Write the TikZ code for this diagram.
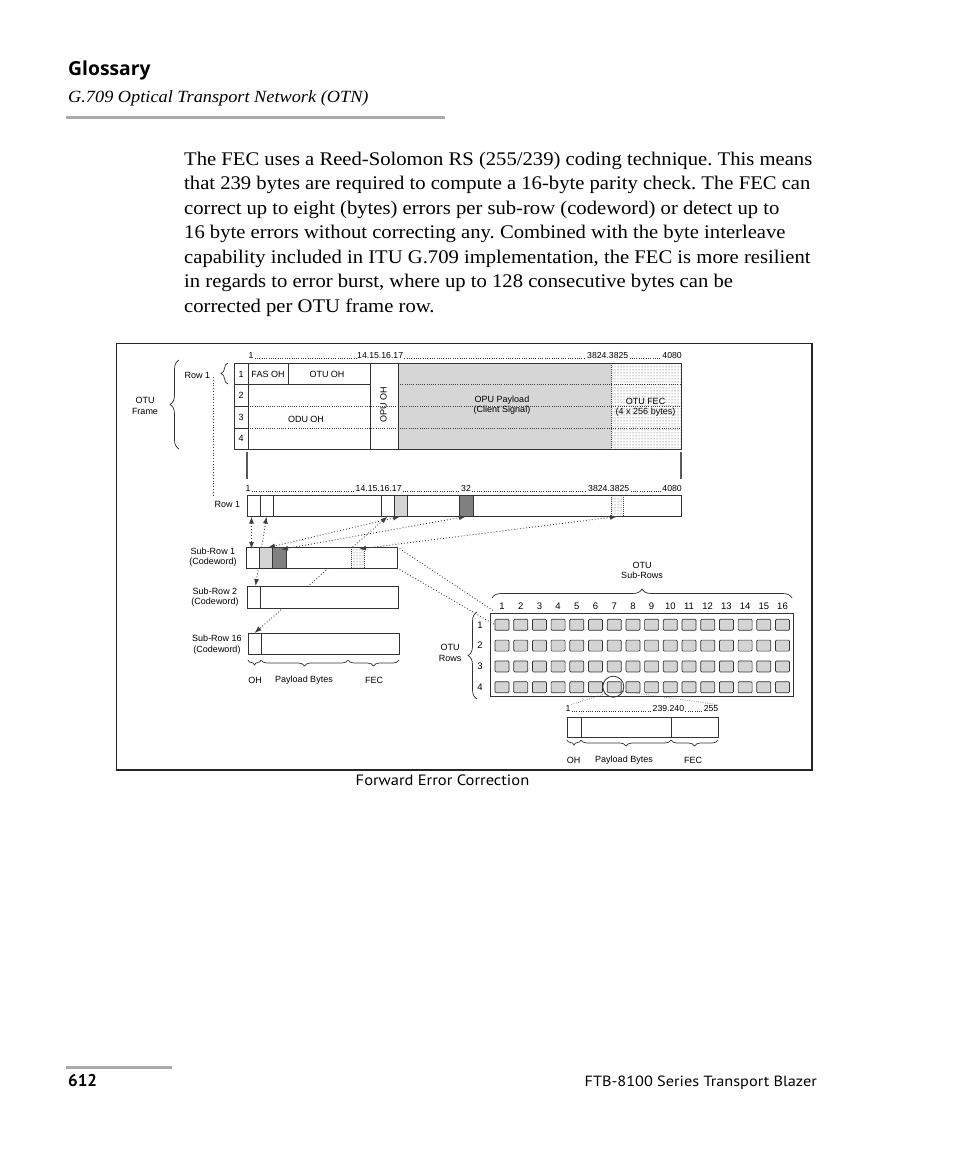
\documentclass[tikz,border=0pt]{standalone}
\usepackage{fontspec}
\setmainfont{Liberation Serif}[FakeStretch=1.07]
\setsansfont{Liberation Sans}
\newfontfamily\ptsans{PT Sans}
\newfontfamily\ptsanswide{PT Sans}[FakeStretch=1.1]
\newfontfamily\opensans{Open Sans}
\usetikzlibrary{patterns,decorations.pathreplacing,arrows.meta}
\tikzset{
  lab/.style={font=\sffamily\fontsize{9}{10.5}\selectfont, inner sep=0pt, align=center},
  num/.style={font=\sffamily\fontsize{8.7}{9}\selectfont, inner sep=0pt, anchor=base west},
  numr/.style={num, anchor=base east},
  leader/.style={line width=0.6pt, dash pattern=on 0.6pt off 1.7pt, black!80},
  bar/.style={draw=black!80, line width=0.9pt},
  thin/.style={draw=black!80, line width=0.8pt},
  cell/.style={draw=black!80, line width=0.7pt, fill=black!17, rounded corners=1pt},
  dotl/.style={line width=0.9pt, dash pattern=on 0.9pt off 2.1pt, black!75},
  darr/.style={dotl, {Latex[length=7pt,width=5pt]}-{Latex[length=7pt,width=5pt]}},
  brc/.style={decorate, decoration={brace, amplitude=#1}, draw=black!80, line width=0.7pt},
  body/.style={font=\fontsize{19.3}{24}\selectfont, inner sep=0pt, anchor=base west},
  fecfill/.style={pattern=dots, pattern color=black!70},
}
\frenchspacing
\begin{document}
\begin{tikzpicture}[x=1pt,y=-1pt]
\useasboundingbox[fill=white] (0,0) rectangle (954,1159);

% header
\node[inner sep=0pt, anchor=base west, font=\opensans\bfseries\fontsize{19.3}{20}\selectfont] (gloss) at (68,75) {Glossary};
\node[inner sep=0pt, anchor=base west, font=\itshape\fontsize{17.1}{20}\selectfont] (sub) at (68,102) {G.709 Optical Transport Network (OTN)};
\fill[black!33] (66,115.5) rectangle (445,119);

% body text
\node[body] (b1) at (184,165) {The FEC uses a Reed-Solomon RS (255/239) coding technique. This means};
\node[body] (b2) at (184,189.5) {that 239 bytes are required to compute a 16-byte parity check. The FEC can};
\node[body] (b3) at (184,214) {correct up to eight (bytes) errors per sub-row (codeword) or detect up to};
\node[body] (b4) at (184,238.5) {16 byte errors without correcting any. Combined with the byte interleave};
\node[body] (b5) at (184,263) {capability included in ITU G.709 implementation, the FEC is more resilient};
\node[body] (b6) at (184,287.5) {in regards to error burst, where up to 128 consecutive bytes can be};
\node[body] (b7) at (184,312) {corrected per OTU frame row.};

% diagram frame
\draw[line width=1.6pt, black!85] (116.5,343.5) rectangle (812,770);

% ---- OTU frame ----
\fill[black!16] (398,363) rectangle (611,449);
\fill[fecfill] (611,363) rectangle (681,449);
\draw[dotl, line width=0.6pt, dash pattern=on 0.6pt off 1.6pt] (398,384.5) -- (681,384.5);
\draw[dotl, line width=0.6pt, dash pattern=on 0.6pt off 1.6pt] (248,406) -- (681,406);
\draw[dotl, line width=0.6pt, dash pattern=on 0.6pt off 1.6pt] (248,428) -- (681,428);
\draw[dotl, line width=0.7pt, dash pattern=on 0.7pt off 1.3pt] (611,363) -- (611,449);
\draw[bar] (234,363) rectangle (681,449);
\draw[thin] (234,384.5) -- (248,384.5) (234,406) -- (248,406) (234,428) -- (248,428);
\draw[thin] (248,363) -- (248,449);
\draw[bar, line width=1.3pt] (248,384.5) -- (370,384.5);
\draw[thin] (288,363) -- (288,384.5);
\draw[thin] (370,363) -- (370,449) (398,363) -- (398,449);
\foreach \r/\y in {1/374,2/395,3/417,4/438} \node[lab] (rn\r) at (241,\y) {\r};
\node[lab] (fas) at (268,374) {FAS OH};
\node[lab] (otuoh) at (327,374) {OTU OH};
\node[lab] (odu) at (306,419.5) {ODU OH};
\node[lab, rotate=90] (opuoh) at (383.5,405) {OPU OH};
\node[lab] (opup) at (502,405) {OPU Payload\\(Client Signal)};
\node[lab] (otufec) at (645.5,407.5) {OTU FEC\\(4 x 256 bytes)};

% top numbering
\node[num] (t1) at (248.5,358) {1};
\node[num] (t14) at (357,358) {14.15.16.17};
\node[num] (t3824) at (587,358) {3824.3825};
\node[numr] (t4080) at (682,358) {4080};
\draw[leader] ([xshift=1pt]t1.base east) -- ([xshift=-1pt]t14.base west);
\draw[leader] ([xshift=1pt]t14.base east) -- ([xshift=-1pt]t3824.base west);
\draw[leader] ([xshift=1pt]t3824.base east) -- ([xshift=-1pt]t4080.base west);

% labels & braces left
\node[lab] (row1a) at (197.5,375) {Row 1};
\draw[brc=7pt] (228,384) -- (228,363);
\node[lab] (otuframe) at (145,406) {OTU\\Frame};
\draw[brc=9pt] (179,449) -- (179,360);
\draw[dotl, line width=0.7pt, dash pattern=on 0.8pt off 2pt] (213,377) -- (213,495);
\draw[black!65, line width=1.4pt] (247,452) -- (247,479);
\draw[black!65, line width=1.4pt] (681,452) -- (681,479);

% ---- Row 1 expanded ----
\node[num] (r1) at (245.5,491) {1};
\node[num] (r14) at (355.5,491) {14.15.16.17};
\node[num] (r32) at (461,491) {32};
\node[num] (r3824) at (588,491) {3824.3825};
\node[numr] (r4080) at (682,491) {4080};
\draw[leader] ([xshift=1pt]r1.base east) -- ([xshift=-1pt]r14.base west);
\draw[leader] ([xshift=1pt]r14.base east) -- ([xshift=-1pt]r32.base west);
\draw[leader] ([xshift=1pt]r32.base east) -- ([xshift=-1pt]r3824.base west);
\draw[leader] ([xshift=1pt]r3824.base east) -- ([xshift=-1pt]r4080.base west);
\node[lab] (row1b) at (227.5,504) {Row 1};

\fill[white] (247,495) rectangle (681,516);
\fill[black!17] (394,495) rectangle (407,516);
\fill[black!50] (459.5,495) rectangle (473,516);
\fill[fecfill] (611,495) rectangle (623.5,516);
\draw[thin] (260,495) -- (260,516) (273,495) -- (273,516) (381,495) -- (381,516) (394,495) -- (394,516) (407,495) -- (407,516);
\draw[thin] (459.5,495) -- (459.5,516) (473,495) -- (473,516);
\draw[dotl, line width=0.7pt, dash pattern=on 0.7pt off 1.3pt] (611,495) -- (611,516) (623.5,495) -- (623.5,516);
\draw[bar] (247,495) rectangle (681,516);

% coordinates on row 1
\coordinate (b1a) at (251.5,516.5);
\coordinate (b2a) at (266.5,516.5);
\coordinate (b16) at (387.5,516.5);
\coordinate (b17) at (400,516.5);
\coordinate (b32) at (466,516.5);
\coordinate (bfec) at (617,516.5);

% lines passing behind sub-row 1
\draw[darr] (b2a) -- (255.5,586);
\draw[darr] (b16) -- (254.5,633);

% ---- Sub-rows ----
\fill[white] (246,547) rectangle (397,568);
\fill[black!17] (259,547) rectangle (272,568);
\fill[black!50] (272,547) rectangle (286,568);
\fill[fecfill] (351,547) rectangle (364,568);
\draw[thin] (259,547) -- (259,568) (272,547) -- (272,568) (286,547) -- (286,568);
\draw[dotl, line width=0.7pt, dash pattern=on 0.7pt off 1.3pt] (351,547) -- (351,568) (364,547) -- (364,568);
\draw[bar] (246,547) rectangle (397,568);
\coordinate (sr1ne) at (397,547);
\coordinate (sr1se) at (397,568);
\node[lab] (srl1) at (213,557) {Sub-Row 1\\(Codeword)};

\draw[fill=white, bar] (247,586) rectangle (398,608);
\draw[thin] (260,586) -- (260,608);
\node[lab] (srl2) at (215,597) {Sub-Row 2\\(Codeword)};

\draw[fill=white, bar] (248,633) rectangle (399,654);
\draw[thin] (261,633) -- (261,654);
\node[lab] (srl16) at (217,644.5) {Sub-Row 16\\(Codeword)};

\draw[brc=5pt] (261,660) -- (248,660);
\draw[brc=6pt] (348,660) -- (261,660);
\draw[brc=6pt] (399,660) -- (348,660);
\node[lab] (ohA) at (255,680) {OH};
\node[lab] (plA) at (304,680) {Payload Bytes};
\node[lab] (fecA) at (374,680) {FEC};

% arrows row 1 <-> sub-row 1
\draw[darr] (b1a) -- (251.5,549);
\draw[darr] (b17) -- (268,547.5);
\draw[darr] (b32) -- (281,549.5);
\draw[darr] (bfec) -- (359,549);

% ---- OTU grid ----
\draw[bar, line width=1pt] (490,613.5) rectangle (793,696);
\foreach \i in {0,...,15} {
  \pgfmathsetmacro{\xx}{495+18.7*\i}
  \node[lab, font=\sffamily\fontsize{9.5}{10}\selectfont] (c\i) at (\xx+7,606.5) {\the\numexpr\i+1\relax};
  \foreach \j in {0,...,3} {
    \pgfmathsetmacro{\yy}{619.3+20.8*\j}
    \draw[cell] (\xx,\yy) rectangle ++(14,11);
  }
}
\foreach \j in {0,...,3} \node[lab, font=\sffamily\fontsize{9.5}{10}\selectfont] (rl\j) at (480,624.8+20.8*\j) {\the\numexpr\j+1\relax};
\node[lab] (subrows) at (642,570.5) {OTU\\Sub-Rows};
\draw[brc=9pt] (492,598) -- (792,598);
\node[lab] (otur) at (450,653) {OTU\\Rows};
\draw[brc=9pt] (477,699) -- (477,612);
\node[circle, draw=black!80, line width=0.8pt, minimum size=21pt, inner sep=0pt] (circ) at (613.3,686.7) {};

\draw[dotl] (sr1ne) -- (493,610.5);
\draw[dotl] (sr1se) -- (494.5,624.5);

% ---- codeword ----
\node[num] (w1) at (565.5,711) {1};
\node[num] (w239) at (652.5,711) {239.240};
\node[numr] (w255) at (718.5,711) {255};
\draw[leader] ([xshift=1pt]w1.base east) -- ([xshift=-1pt]w239.base west);
\draw[leader] ([xshift=1pt]w239.base east) -- ([xshift=-1pt]w255.base west);
\draw[dotl, line width=0.6pt, dash pattern=on 0.6pt off 1.7pt] (circ.220) -- (w1.north east);
\draw[dotl, line width=0.6pt, dash pattern=on 0.6pt off 1.7pt] (circ.-25) -- (w255.north east);
\draw[bar, fill=white] (567,717) rectangle (718,737.5);
\draw[thin] (581,717) -- (581,737.5) (671,717) -- (671,737.5);
\draw[brc=5pt] (581,740) -- (567,740);
\draw[brc=6pt] (671,740) -- (581,740);
\draw[brc=6pt] (718,740) -- (671,740);
\node[lab] (ohB) at (573.5,760) {OH};
\node[lab] (plB) at (624,760) {Payload Bytes};
\node[lab] (fecB) at (693,760) {FEC};

% caption
\node[inner sep=0pt, font=\ptsanswide\fontsize{15}{16}\selectfont] (cap) at (442.5,780) {Forward Error Correction};

% footer
\fill[black!33] (66,1065.5) rectangle (172,1069);
\node[inner sep=0pt, anchor=base west, font=\ptsans\bfseries\fontsize{17}{18}\selectfont] (page) at (68,1086) {612};
\node[inner sep=0pt, anchor=base east, font=\ptsanswide\fontsize{14.8}{16}\selectfont] (foot) at (817,1086) {FTB-8100 Series Transport Blazer};
\end{tikzpicture}
\end{document}
